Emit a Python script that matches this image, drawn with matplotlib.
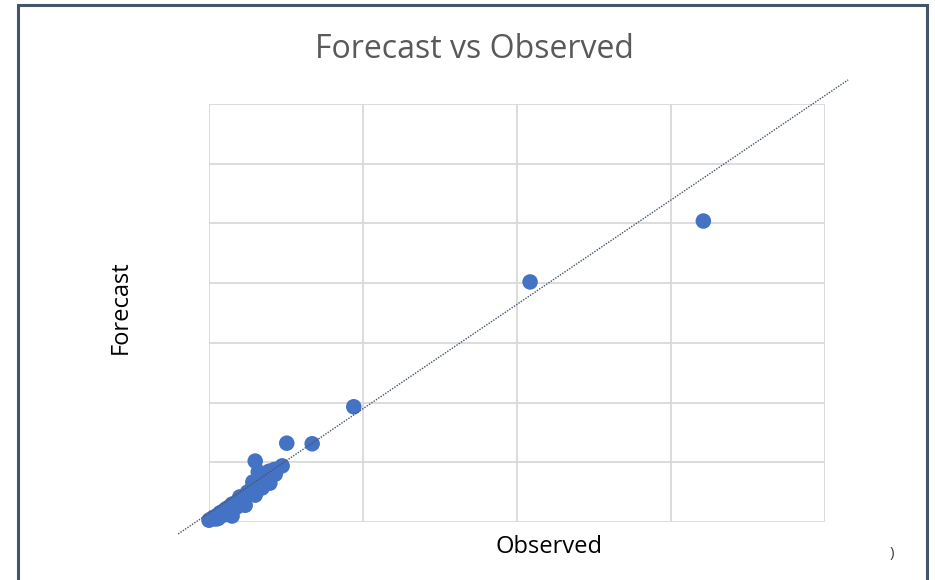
import matplotlib
matplotlib.use("Agg")
import matplotlib.pyplot as plt
from matplotlib.patches import Rectangle
import numpy as np

# ---- data ----
observed = [0.00, 0.03, 0.06, 0.10, 0.14, 0.18, 0.22, 0.26, 0.30, 0.36, 0.40, 0.45,
            0.50, 0.55, 0.60, 0.65, 0.72, 0.78, 0.85, 0.95, 0.79, 0.60, 1.01, 1.34,
            1.88, 4.17, 6.42, 0.36, 0.25, 0.64, 0.57, 0.86, 0.12, 0.20, 0.46, 0.70,
            0.17, 0.47, 0.60, 0.69, 0.40, 0.30, 0.09]
forecast = [0.03, 0.05, 0.08, 0.10, 0.15, 0.17, 0.22, 0.25, 0.30, 0.33, 0.38, 0.42,
            0.50, 0.55, 0.62, 0.68, 0.75, 0.85, 0.88, 0.94, 0.65, 1.02, 1.32, 1.31,
            1.93, 4.02, 5.04, 0.25, 0.15, 0.84, 0.67, 0.80, 0.06, 0.12, 0.36, 0.64,
            0.17, 0.28, 0.45, 0.57, 0.42, 0.10, 0.05]
trend_slope = 0.874
trend_intercept = 0.149
trend_x_range = [-0.40, 8.30]
x_ticks = [0, 2, 4, 6, 8]
y_ticks = [0, 1, 2, 3, 4, 5, 6, 7]

title = "Forecast vs Observed"
x_label = "Observed"
y_label = "Forecast"

W, H = 935, 580
fig = plt.figure(figsize=(W / 100, H / 100), dpi=100)
fig.patch.set_facecolor("white")

ax = fig.add_axes([209 / W, 1 - 522 / H, (825 - 209) / W, (522 - 104) / H])
ax.set_xlim(x_ticks[0], x_ticks[-1])
ax.set_ylim(y_ticks[0], y_ticks[-1])
ax.set_xticks(x_ticks)
ax.set_yticks(y_ticks)
ax.tick_params(length=0, labelbottom=False, labelleft=False)
for s in ax.spines.values():
    s.set_visible(False)
ax.grid(True, color="#D9D9D9", linewidth=1.3)
ax.set_axisbelow(True)

ax.scatter(observed, forecast, s=125, color="#4472C4", edgecolors="none", zorder=3,
           clip_on=False)

tx = np.array(trend_x_range)
ax.plot(tx, trend_slope * tx + trend_intercept, linestyle=(0, (1, 1)), color="#44546A",
        linewidth=1.0, clip_on=False, zorder=4)

font = "Open Sans"
fig.text(474 / W, 1 - 50 / H, title, ha="center", va="center", fontsize=23,
         color="#595959", family=font)
fig.text(549 / W, 1 - 547 / H, x_label, ha="center", va="center", fontsize=17,
         color="black", family=font)
fig.text(121 / W, 1 - 307 / H, y_label, ha="center", va="center", fontsize=17,
         color="black", family=font, rotation=90)
fig.text(892 / W, 1 - 553 / H, ")", ha="center", va="center", fontsize=11,
         color="#404040", family=font)

# chart border
fig.patches.append(Rectangle((18 / W, -0.05), (927 - 18) / W, 1.05 - 5.5 / H,
                             transform=fig.transFigure, fill=False,
                             edgecolor="#44546A", linewidth=2.2))

fig.savefig("out.png", dpi=100)
